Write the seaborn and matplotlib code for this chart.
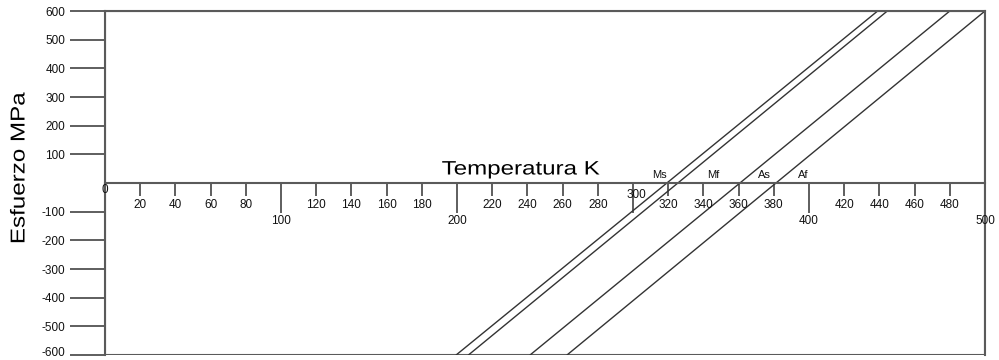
import matplotlib
matplotlib.use("Agg")
import matplotlib.pyplot as plt
import matplotlib.patches as mpatches
from matplotlib.patheffects import AbstractPathEffect
from matplotlib.transforms import Affine2D, ScaledTranslation
import pandas as pd
import seaborn as sns

sns.set_theme(style="white")
plt.rcParams["font.family"] = ["Liberation Sans", "DejaVu Sans"]

# Transformation lines: temperature (K) at the lowest and highest stress shown
line_names = ["Ms", "Mf", "As", "Af"]
stress_ends = [-600, 600]
temp_at_low = [199.5, 206.5, 241.5, 262.5]
temp_at_high = [439.0, 444.5, 480.0, 500.0]

# Label positions for the transformation temperatures (K)
marker_labels = ["Ms", "Mf", "As", "Af"]
marker_temps = [315, 345.5, 374.5, 397]

# Axis ticks
x_minor_ticks = [20, 40, 60, 80, 120, 140, 160, 180, 220, 240, 260, 280,
                 320, 340, 360, 380, 420, 440, 460, 480]
x_major_ticks = [100, 200, 300, 400]
y_ticks = [-600, -500, -400, -300, -200, -100, 100, 200, 300, 400, 500, 600]


class WideText(AbstractPathEffect):
    """Stretch text glyphs along the writing direction about their centre."""

    def __init__(self, sx=1.2):
        super().__init__()
        self.sx = sx

    def draw_path(self, renderer, gc, tpath, affine, rgbFace=None):
        ext = tpath.get_extents()
        cx = 0.5 * (ext.x0 + ext.x1)
        stretch = Affine2D().translate(-cx, 0).scale(self.sx, 1).translate(cx, 0)
        renderer.draw_path(gc, tpath, stretch + affine, rgbFace)


rows = []
for name, t0, t1 in zip(line_names, temp_at_low, temp_at_high):
    rows.append({"linea": name, "T": t0, "sigma": stress_ends[0]})
    rows.append({"linea": name, "T": t1, "sigma": stress_ends[1]})
df = pd.DataFrame(rows)

W, H = 999, 360
fig = plt.figure(figsize=(W / 100, H / 100), dpi=100)
ax = fig.add_axes([105 / W, 1 - 355 / H, (985 - 105) / W, (355 - 11) / H])

line_color = "#333333"
frame_color = "#5a5a5a"
text_color = "#111111"

sns.lineplot(data=df, x="T", y="sigma", units="linea", estimator=None,
             color=line_color, linewidth=1.0, ax=ax, legend=False)

ax.set_xlim(0, 500)
ax.set_ylim(-600, 600)

# Outer frame
for side in ["top", "right", "left"]:
    ax.spines[side].set_color(frame_color)
    ax.spines[side].set_linewidth(1.5)
ax.add_patch(mpatches.Rectangle((0, 0), 1, 1, transform=ax.transAxes,
                                fill=False, edgecolor=frame_color,
                                linewidth=1.5, zorder=0.5))

# Temperature axis sits on the zero-stress line
ax.spines["bottom"].set_position(("data", 0))
ax.spines["bottom"].set_color(frame_color)
ax.spines["bottom"].set_linewidth(1.5)

ax.set_xticks(x_major_ticks)
ax.set_xticks(x_minor_ticks, minor=True)
ax.tick_params(axis="x", which="major", direction="out", length=21.5,
               width=1.1, color=line_color, labelbottom=False, bottom=True)
ax.tick_params(axis="x", which="minor", direction="out", length=9.5,
               width=1.1, color=line_color, labelbottom=False, bottom=True)

ax.set_yticks(y_ticks)
ax.set_yticklabels([str(v) for v in y_ticks])
ax.tick_params(axis="y", direction="out", length=25, width=1.1,
               color=line_color, labelsize=8.5, labelcolor=text_color,
               pad=3.5, left=True)
# keep the lowest stress label inside the canvas
low_lbl = ax.get_yticklabels()[0]
low_lbl.set_transform(low_lbl.get_transform()
                      + ScaledTranslation(0, 3 / 100, fig.dpi_scale_trans))

# Temperature tick labels
tick_font = dict(fontsize=8.5, color=text_color, ha="center", va="center")
ax.annotate("0", xy=(0, 0), xytext=(0, -7), textcoords="offset pixels",
            **tick_font)
for t in x_minor_ticks:
    ax.annotate(str(t), xy=(t, 0), xytext=(0, -22),
                textcoords="offset pixels", **tick_font)
for t in x_major_ticks:
    dy = -12 if t == 300 else -38
    dx = 3 if t == 300 else 0
    ax.annotate(str(t), xy=(t, 0), xytext=(dx, dy),
                textcoords="offset pixels", **tick_font)
ax.annotate("500", xy=(500, 0), xytext=(0, -38), textcoords="offset pixels",
            **tick_font)

# Transformation temperature labels
for lab, t in zip(marker_labels, marker_temps):
    ax.annotate(lab, xy=(t, 0), xytext=(0, 8), textcoords="offset pixels",
                fontsize=8, color=text_color, ha="center", va="center")

ax.annotate("Temperatura K", xy=(236.5, 0), xytext=(0, 13),
            textcoords="offset pixels", fontsize=14, color="black",
            ha="center", va="center", path_effects=[WideText(1.24)])

ax.set_xlabel("")
ax.set_ylabel("")
fig.text(19 / W, 1 - 168 / H, "Esfuerzo MPa", rotation=90, fontsize=14.5,
         color="black", ha="center", va="center",
         path_effects=[WideText(1.2)])

fig.savefig("out.png", dpi=100, facecolor="white")
